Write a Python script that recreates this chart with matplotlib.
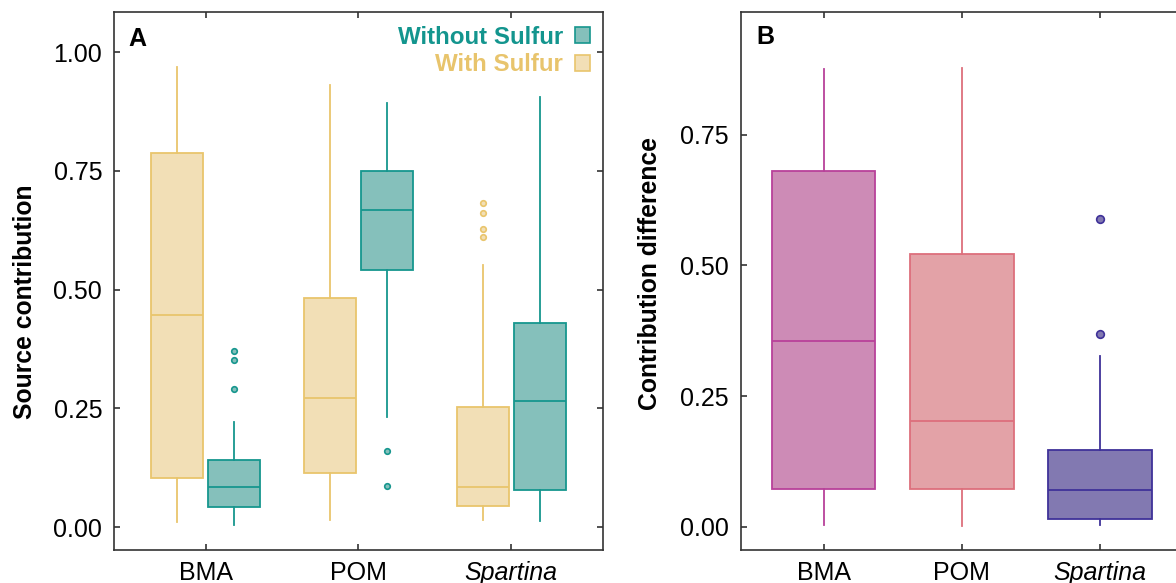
import matplotlib.pyplot as plt
from matplotlib.patches import Patch

plt.rcParams['font.family'] = ['Liberation Sans', 'DejaVu Sans']

# x categories
sources = ['BMA', 'POM', 'Spartina']

# panel A - with sulfur (box stats)
with_lo = [0.012, 0.016, 0.015]
with_q1 = [0.104, 0.114, 0.045]
with_med = [0.446, 0.273, 0.085]
with_q3 = [0.787, 0.482, 0.253]
with_hi = [0.969, 0.932, 0.551]
with_out = [[], [], [0.682, 0.662, 0.627, 0.611]]

# panel A - without sulfur
wo_lo = [0.004, 0.233, 0.013]
wo_q1 = [0.042, 0.541, 0.078]
wo_med = [0.084, 0.667, 0.265]
wo_q3 = [0.141, 0.749, 0.430]
wo_hi = [0.221, 0.893, 0.906]
wo_out = [[0.371, 0.352, 0.291], [0.161, 0.087], []]

# panel B - contribution difference
diff_lo = [0.004, 0.001, 0.003]
diff_q1 = [0.073, 0.072, 0.016]
diff_med = [0.356, 0.202, 0.070]
diff_q3 = [0.680, 0.521, 0.148]
diff_hi = [0.876, 0.877, 0.326]
diff_out = [[], [], [0.589, 0.368]]

tan_fill, tan_edge = '#f2dfb6', '#e9c56c'
teal_fill, teal_edge = '#85c0bb', '#16968e'
b_fill = ['#cd8bb6', '#e3a2a7', '#8279b1']
b_edge = ['#b8419a', '#dd6f7c', '#3f3199']
spine_col = '#333333'


def stats(lo, q1, med, q3, hi, out):
    return [dict(whislo=lo[i], q1=q1[i], med=med[i], q3=q3[i], whishi=hi[i], fliers=out[i])
            for i in range(len(lo))]


def draw(ax, st, pos, width, fill, edge, msize):
    ax.bxp(st, positions=pos, widths=width, patch_artist=True, showcaps=False,
           boxprops=dict(facecolor=fill, edgecolor=edge, linewidth=1.3),
           medianprops=dict(color=edge, linewidth=1.3),
           whiskerprops=dict(color=edge, linewidth=1.3),
           flierprops=dict(marker='o', markerfacecolor=fill, markeredgecolor=edge,
                           markersize=msize, markeredgewidth=1.2))


def style(ax, ylim, ticks):
    ax.set_xlim(0.4, 3.6)
    ax.set_ylim(*ylim)
    ax.set_xticks([1, 2, 3])
    ax.set_xticklabels(sources)
    ax.get_xticklabels()[2].set_style('italic')
    ax.set_yticks(ticks)
    ax.set_yticklabels(['%.2f' % t for t in ticks])
    ax.tick_params(axis='both', direction='in', length=4.5, width=1.2, color=spine_col,
                   labelsize=18, top=True, right=True)
    ax.tick_params(axis='y', pad=8.5)
    ax.tick_params(axis='x', pad=8)
    for s in ax.spines.values():
        s.set_color(spine_col)
        s.set_linewidth(1.2)


fig = plt.figure(figsize=(11.76, 5.83), dpi=100)

# panel A
axA = fig.add_axes([0.0969, 0.0566, 0.4158, 0.9223])
x = [1, 2, 3]
draw(axA, stats(with_lo, with_q1, with_med, with_q3, with_hi, with_out),
     [p - 0.1875 for p in x], 0.34, tan_fill, tan_edge, 4)
draw(axA, stats(wo_lo, wo_q1, wo_med, wo_q3, wo_hi, wo_out),
     [p + 0.1875 for p in x], 0.34, teal_fill, teal_edge, 4)
style(axA, (-0.048, 1.084), [0.0, 0.25, 0.5, 0.75, 1.0])
axA.set_ylabel('Source contribution', fontsize=17.8, fontweight='bold')
axA.yaxis.set_label_coords(-0.158, 0.461)
axA.text(0.03, 0.951, 'A', transform=axA.transAxes, fontsize=18, fontweight='bold',
         va='center', ha='left')
handles = [Patch(facecolor=teal_fill, edgecolor=teal_edge, linewidth=1.2),
           Patch(facecolor=tan_fill, edgecolor=tan_edge, linewidth=1.2)]
axA.legend(handles, ['Without Sulfur', 'With Sulfur'], loc='upper right', frameon=False,
           markerfirst=False, labelcolor=['#13958e', '#e8c46c'],
           prop={'weight': 'bold', 'size': 17.4}, handlelength=0.6, handleheight=0.6,
           handletextpad=0.5, labelspacing=0.2, borderaxespad=0.3, borderpad=0.25)

# panel B (runs off the right edge like the original crop)
axB = fig.add_axes([0.6298, 0.0566, 0.3761, 0.9223])
for i in range(3):
    st = stats(diff_lo, diff_q1, diff_med, diff_q3, diff_hi, diff_out)[i:i + 1]
    draw(axB, st, [i + 1], 0.75, b_fill[i], b_edge[i], 5.5)
style(axB, (-0.044, 0.9837), [0.0, 0.25, 0.5, 0.75])
axB.set_ylabel('Contribution difference', fontsize=17.8, fontweight='bold')
axB.yaxis.set_label_coords(-0.178, 0.515)
axB.text(0.035, 0.954, 'B', transform=axB.transAxes, fontsize=18, fontweight='bold',
         va='center', ha='left')

fig.savefig('out.png', dpi=100)
